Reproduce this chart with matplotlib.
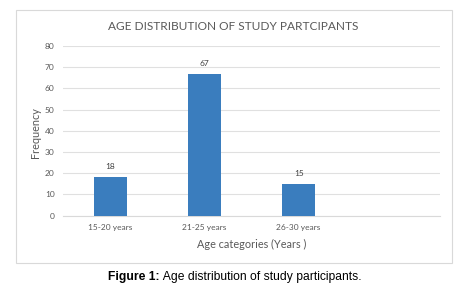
import matplotlib
matplotlib.use("Agg")
import matplotlib.pyplot as plt
from matplotlib.patches import Rectangle

categories = ["15-20 years", "21-25 years", "26-30 years"]
values = [18, 67, 15]
yticks = [0, 10, 20, 30, 40, 50, 60, 70, 80]

fig = plt.figure(figsize=(4.76, 2.94), dpi=100)
fig.patches.append(Rectangle((0.0336, 0.1054), 0.916, 0.8606, transform=fig.transFigure,
                             fill=False, edgecolor="#d9d9d9", linewidth=0.8))
ax = fig.add_axes([0.1324, 0.2667, 0.792, 0.5768])
x = list(range(len(categories)))
ax.bar(x, values, width=0.35, color="#3a7dbe", zorder=3)
ax.set_xlim(-0.5, 3.5)
ax.set_ylim(0, 80)
ax.set_yticks(yticks)
ax.set_xticks(x)
ax.set_xticklabels(categories)
ax.grid(axis="y", color="#e0e0e0", linewidth=0.8, zorder=0)
for s in ["top", "right", "left"]:
    ax.spines[s].set_visible(False)
ax.spines["bottom"].set_color("#d9d9d9")
ax.tick_params(axis="both", length=0, labelsize=6, colors="#595959", pad=6)
for lbl in ax.get_xticklabels() + ax.get_yticklabels():
    lbl.set_family("Lato")
for xi, v in zip(x, values):
    ax.annotate(str(v), (xi, v), xytext=(0, 5), textcoords="offset points",
                ha="center", va="bottom", fontsize=6, color="#404040", family="Lato")
fig.text(0.49, 0.911, "AGE DISTRIBUTION OF STUDY PARTCIPANTS", ha="center", va="center",
         fontsize=8.6, color="#595959", family="Lato")
fig.text(0.074, 0.55, "Frequency", rotation=90, ha="center", va="center",
         fontsize=7.8, color="#595959", family="Lato")
fig.text(0.529, 0.168, "Age categories (Years )", ha="center", va="center",
         fontsize=7.8, color="#595959", family="Lato")
t1 = fig.text(0.0, 0.058, "Figure 1:", ha="left", va="center", fontsize=8.7,
              fontweight="bold", family="Liberation Sans", color="black")
t2 = fig.text(0.0, 0.058, " Age distribution of study participants.",
              ha="left", va="center", fontsize=8.7, family="Liberation Sans", color="black")
fig.canvas.draw()
w1 = t1.get_window_extent().width
w2 = t2.get_window_extent().width
W = fig.bbox.width
start = 235 - (w1 + w2) / 2
t1.set_x(start / W)
t2.set_x((start + w1) / W)
fig.savefig("out.png", dpi=100, facecolor="white")
